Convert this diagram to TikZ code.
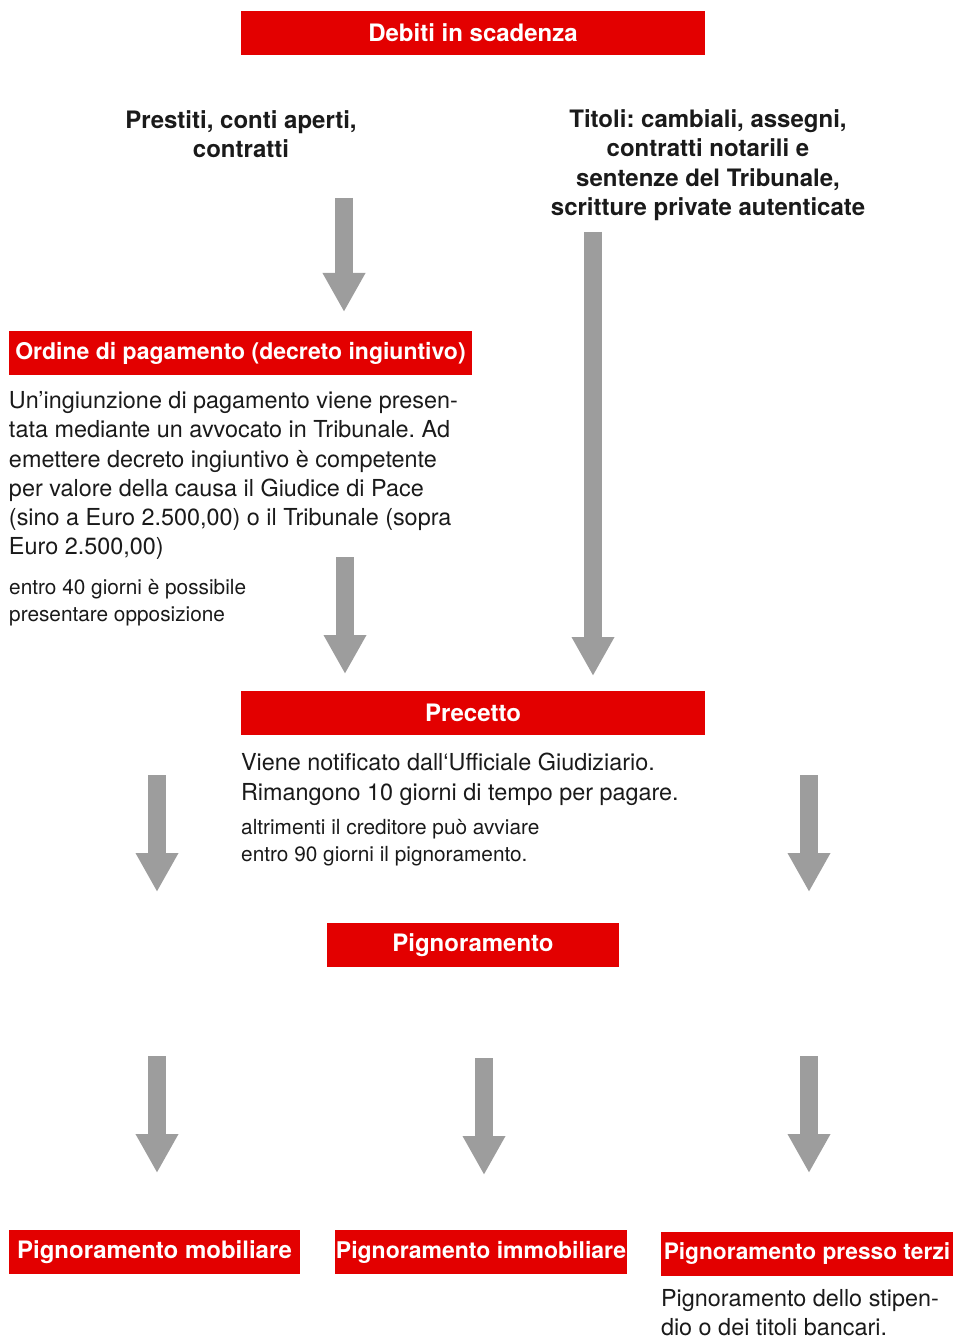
\documentclass[tikz,border=0pt]{standalone}
\usepackage{fontspec}
\setmainfont{TeX Gyre Heros}
\usetikzlibrary{positioning, arrows.meta}
\definecolor{boxred}{HTML}{E30000}
\definecolor{arrowgray}{HTML}{9D9D9D}
\definecolor{ink}{HTML}{1A1A1A}
\newcommand{\headtext}{\fontsize{24}{29.5}\selectfont}
\newcommand{\bigtext}{\fontsize{23.4}{29.3}\selectfont}
\newcommand{\smalltext}{\fontsize{20.8}{27}\selectfont}
\frenchspacing

\begin{document}
\begin{tikzpicture}
        [
            x=1pt, y=-1pt,
            redbox/.style={fill=boxred, text=white, font=\headtext\bfseries,
                           minimum width=#1, minimum height=44pt, inner sep=0pt},
            tight/.style={font=\fontsize{23}{29}\selectfont\bfseries},
            head/.style={align=center, anchor=north, inner sep=0pt,
                         text=ink, font=\headtext\bfseries},
            note/.style={align=left, anchor=north west, inner sep=0pt,
                         text=ink, font=\bigtext},
            smallnote/.style={note, font=\smalltext},
            bigarrow/.style={draw=arrowgray, line width=18pt,
                             -{Triangle[width=40pt, length=39pt]}}
        ]
        \useasboundingbox (0,0) rectangle (954,1337);
        % red title boxes
        \node (debiti) [redbox=464pt] at (473,33) {Debiti in scadenza};
        \node (ordine) [redbox=463pt, tight] at (240.5,353) {Ordine di pagamento (decreto ingiuntivo)};
        \node (precetto) [redbox=464pt] at (473,713) {Precetto};
        \node (pign) [redbox=292pt] at (473,945) {Pignoramento};
        \node (mob) [redbox=291pt] at (154.5,1252) {Pignoramento mobiliare};
        \node (immob) [redbox=292pt, tight] at (481,1252) {Pignoramento immobiliare};
        \node (terzi) [redbox=292pt, font=\fontsize{22.7}{29}\selectfont\bfseries] at (807,1254) {Pignoramento presso terzi};
        % sources
        \node (prestiti) [head] at (241,110) {Prestiti, conti aperti,\\contratti};
        \node (titoli) [head] at (708,109) {Titoli: cambiali, assegni,\\contratti notarili e\\
            sentenze del Tribunale,\\scritture private autenticate};
        % explanations
        \node (ordine-txt) [note] at ([yshift=-16pt]ordine.south west)
            {Un’ingiunzione di pagamento viene presen-\\tata mediante un avvocato in Tribunale. Ad\\
             emettere decreto ingiuntivo è competente\\per valore della causa il Giudice di Pace\\
             (sino a Euro 2.500,00) o il Tribunale (sopra\\Euro 2.500,00)};
        \node (ordine-opp) [smallnote] at (9,579)
            {entro 40 giorni è possibile\\presentare opposizione};
        \node (precetto-txt) [note] at ([yshift=-18pt]precetto.south west)
            {Viene notificato dall‘Ufficiale Giudiziario.\\Rimangono 10 giorni di tempo per pagare.};
        \node (precetto-dopo) [smallnote] at (241,819)
            {altrimenti il creditore può avviare\\entro 90 giorni il pignoramento.};
        \node (terzi-txt) [note] at ([yshift=-13pt]terzi.south west)
            {Pignoramento dello stipen-\\dio o dei titoli bancari.};
        % block arrows
        \foreach \n/\x/\ya/\yb in {a/344/198/312, b/593/232/676, c/345/557/674,
                                   d/157/775/892, e/809/775/892, f/157/1056/1173,
                                   g/484/1058/1175, h/809/1056/1173}{
            \coordinate (\n-s) at (\x,\ya);
            \coordinate (\n-e) at (\x,\yb);
            \draw [bigarrow] (\n-s) -- (\n-e);
        }
    \end{tikzpicture}
\end{document}
